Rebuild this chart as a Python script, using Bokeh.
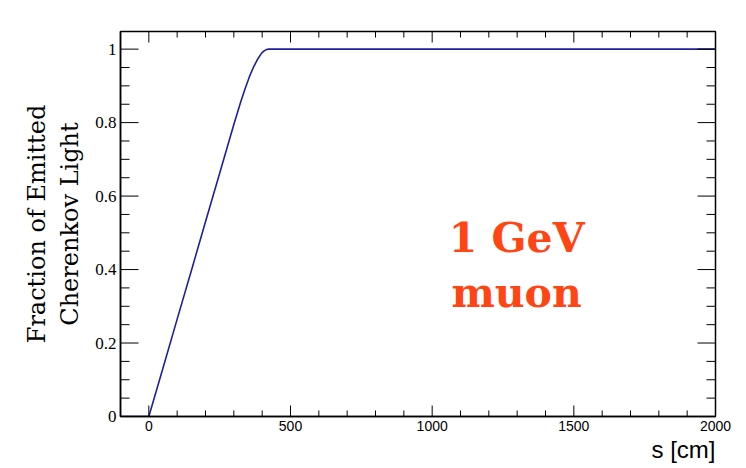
import math
from bokeh.plotting import figure
from bokeh.models import Range1d, SingleIntervalTicker, Label, Title
from bokeh.embed import file_html
from bokeh.resources import INLINE

# Data (path length s in cm, cumulative fraction)
s_cm = [-100, 0, 50, 100, 150, 200, 250, 300, 325, 340, 355, 370, 385, 398,
        408, 416, 422, 2000]
fraction = [0.0, 0.0, 0.132, 0.265, 0.397, 0.530, 0.662, 0.795, 0.858, 0.893,
            0.925, 0.952, 0.974, 0.989, 0.996, 0.999, 1.0, 1.0]

# Tick values
x_major = [0, 500, 1000, 1500, 2000]
x_minor = [100, 200, 300, 400, 600, 700, 800, 900, 1100, 1200, 1300, 1400,
           1600, 1700, 1800, 1900]
y_major = [0.0, 0.2, 0.4, 0.6, 0.8, 1.0]
y_minor = [0.05, 0.10, 0.15, 0.25, 0.30, 0.35, 0.45, 0.50, 0.55, 0.65, 0.70,
           0.75, 0.85, 0.90, 0.95]

x_label = "s [cm]"
y_label = "Fraction of Emitted\nCherenkov Light"
note_lines = ["1 GeV", "muon"]
note_x = [1298, 1298]
note_y = [0.487, 0.337]

X0, X1 = -100, 2000
Y0, Y1 = 0, 1.048

p = figure(width=746, height=468, output_backend="svg", toolbar_location=None,
           x_range=Range1d(X0, X1), y_range=Range1d(Y0, Y1),
           min_border_left=120, min_border_right=31, min_border_top=31,
           min_border_bottom=52)
p.background_fill_color = "white"
p.border_fill_color = "white"
p.outline_line_color = "black"
p.outline_line_width = 1.5
p.xgrid.visible = False
p.ygrid.visible = False

p.line(s_cm, fraction, line_color="#1f1fa0", line_width=1.6)

# Inward-pointing ticks on all four sides (half of each dash clipped by the frame)
for vals, size in ((x_major, 22), (x_minor, 12)):
    p.scatter(vals, [Y0] * len(vals), marker="dash", angle=math.pi / 2, size=size,
              line_color="black", line_width=1)
    p.scatter(vals, [Y1] * len(vals), marker="dash", angle=math.pi / 2, size=size,
              line_color="black", line_width=1)
for vals, size in ((y_major, 36), (y_minor, 18)):
    p.scatter([X0] * len(vals), vals, marker="dash", size=size,
              line_color="black", line_width=1)
    p.scatter([X1] * len(vals), vals, marker="dash", size=size,
              line_color="black", line_width=1)

xa = p.xaxis[0]
xa.ticker = SingleIntervalTicker(interval=500, num_minor_ticks=5)
xa.axis_line_color = "black"
xa.axis_line_width = 1.5
xa.major_tick_in = 0
xa.major_tick_out = 0
xa.minor_tick_in = 0
xa.minor_tick_out = 0
xa.major_label_text_font = "Liberation Sans"
xa.major_label_text_font_size = "14px"
xa.major_label_text_color = "black"
xa.major_label_standoff = 4

ya = p.yaxis[0]
ya.ticker = SingleIntervalTicker(interval=0.2, num_minor_ticks=4)
ya.axis_line_color = "black"
ya.axis_line_width = 1.5
ya.major_tick_in = 0
ya.major_tick_out = 0
ya.minor_tick_in = 0
ya.minor_tick_out = 0
ya.major_label_text_font = "Liberation Serif"
ya.major_label_text_font_size = "17px"
ya.major_label_text_color = "black"
ya.major_label_standoff = 4
ya.axis_label = y_label
ya.axis_label_text_font = "DejaVu Serif"
ya.axis_label_text_font_size = "24px"
ya.axis_label_text_font_style = "normal"
ya.axis_label_text_color = "black"
ya.axis_label_text_line_height = 1.2
ya.axis_label_standoff = 8

xt = Title(text=x_label, align="right", text_font="Liberation Sans",
           text_font_size="24px", text_font_style="normal", text_color="black",
           standoff=0, offset=0)
p.add_layout(xt, "below")

for t, xx, yy in zip(note_lines, note_x, note_y):
    p.add_layout(Label(x=xx, y=yy, text=t, text_align="center",
                       text_baseline="alphabetic", text_font="DejaVu Serif",
                       text_font_style="bold", text_font_size="41px",
                       text_color="#ff4514"))

open("out.html", "w").write(file_html(p, INLINE))
